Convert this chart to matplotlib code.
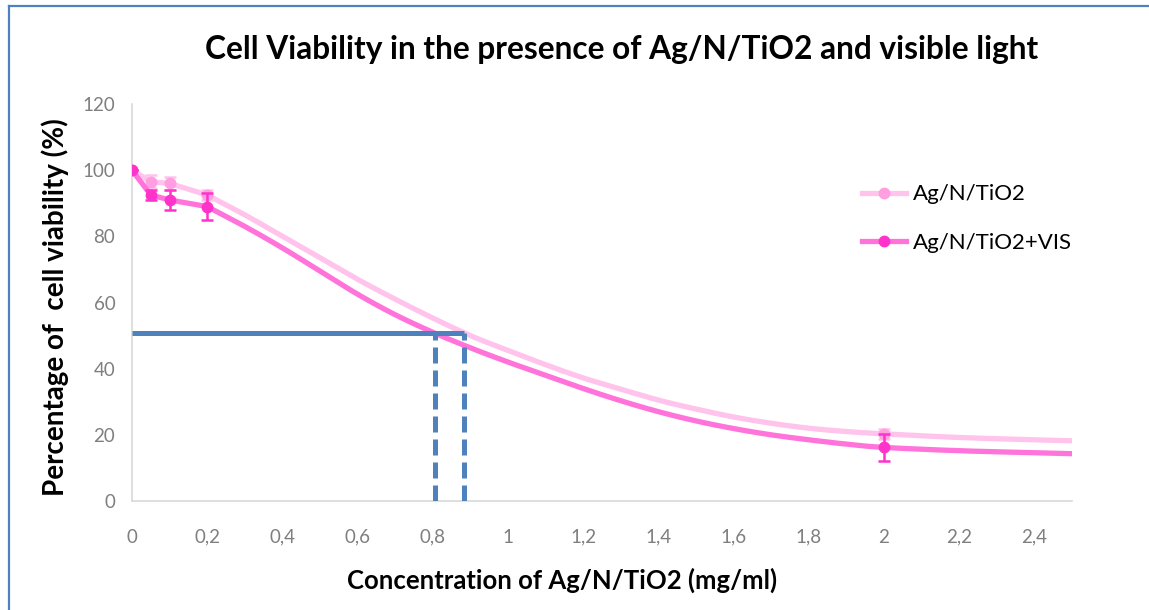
import matplotlib
matplotlib.use("Agg")
import numpy as np
import matplotlib.pyplot as plt
from matplotlib.lines import Line2D
from matplotlib.ticker import FixedLocator, FuncFormatter

# Measured viability (%) with standard deviations
conc = [0, 0.05, 0.1, 0.2, 2]
viab_dark = [100, 96.5, 96, 92.5, 20.3]
err_dark = [0, 2, 2, 1.5, 1.5]
viab_vis = [100, 92.5, 91, 89, 16.2]
err_vis = [0, 1.5, 3, 4, 4]

# Dose-response curves drawn between the measured points
curve_x = [0.3, 0.4, 0.5, 0.6, 0.7, 0.8, 0.9, 1.0, 1.1, 1.2, 1.3, 1.4, 1.5,
           1.6, 1.7, 1.8, 1.9, 2.0, 2.2, 2.4, 2.5]
curve_dark = [86.5, 80, 73.5, 67, 61, 55.3, 50, 45.5, 41.2, 37.2, 33.8, 30.5,
              27.8, 25.4, 23.5, 22, 21, 20.3, 19.2, 18.5, 18.2]
curve_vis = [83, 76.5, 69.5, 62.5, 56.3, 51, 46.3, 42, 38, 34, 30.3, 27, 24.2,
             21.9, 20, 18.5, 17.2, 16.2, 15.2, 14.6, 14.3]

# IC50 guide lines
ic50_level = 50.7
ic50_vis = 0.806
ic50_dark = 0.883

x_ticks = [0, 0.2, 0.4, 0.6, 0.8, 1, 1.2, 1.4, 1.6, 1.8, 2, 2.2, 2.4]
y_ticks = [0, 20, 40, 60, 80, 100, 120]

title = "Cell Viability in the presence of Ag/N/TiO2 and visible light"
xlabel = "Concentration of Ag/N/TiO2 (mg/ml)"
ylabel = "Percentage of  cell viability (%)"
labels = ["Ag/N/TiO2", "Ag/N/TiO2+VIS"]

light_line = "#FFC3EC"
light_mark = "#FF9EE0"
dark_line = "#FF73DA"
dark_mark = "#FF33CC"
blue = "#4F81BD"


def smooth(xs, ys, n=12):
    """Catmull-Rom path through the given points (spreadsheet-style smooth line)."""
    p = np.column_stack([xs, ys]).astype(float)
    p = np.vstack([p[0], p, p[-1]])
    out = []
    t = np.linspace(0, 1, n, endpoint=False)[:, None]
    for i in range(1, len(p) - 2):
        p0, p1, p2, p3 = p[i - 1], p[i], p[i + 1], p[i + 2]
        seg = 0.5 * ((2 * p1) + (-p0 + p2) * t
                     + (2 * p0 - 5 * p1 + 4 * p2 - p3) * t ** 2
                     + (-p0 + 3 * p1 - 3 * p2 + p3) * t ** 3)
        out.append(seg)
    out.append(p[-2][None, :])
    out = np.vstack(out)
    return out[:, 0], out[:, 1]


fig = plt.figure(figsize=(11.49, 6.10), dpi=100)
ax = fig.add_axes([132 / 1149, 109 / 610, 940 / 1149, 397 / 610])

# series without light: straight joins between the first doses, smooth curve after
xs_d = conc[:4] + curve_x
ys_d = viab_dark[:4] + curve_dark
sx, sy = smooth(xs_d[3:], ys_d[3:])
ax.plot(list(xs_d[:3]) + list(sx), list(ys_d[:3]) + list(sy), color=light_line,
        lw=3.8, solid_capstyle="butt", solid_joinstyle="round", zorder=2)
ax.errorbar(conc, viab_dark, yerr=err_dark, fmt="o", color=light_mark,
            ms=7.5, ecolor=light_line, elinewidth=1.8, capsize=4.5,
            capthick=1.8, zorder=3)

# series with visible light
xs_v = conc[:4] + curve_x
ys_v = viab_vis[:4] + curve_vis
sx, sy = smooth(xs_v[3:], ys_v[3:])
ax.plot(list(xs_v[:3]) + list(sx), list(ys_v[:3]) + list(sy), color=dark_line,
        lw=3.8, solid_capstyle="butt", solid_joinstyle="round", zorder=4)
ax.errorbar(conc, viab_vis, yerr=err_vis, fmt="o", color=dark_mark,
            ms=7.5, ecolor=dark_mark, elinewidth=1.8, capsize=4.5,
            capthick=1.8, zorder=5)

# IC50 guides
ax.plot([0, ic50_dark], [ic50_level, ic50_level], color=blue, lw=3.6,
        solid_capstyle="butt", zorder=6)
for xv in (ic50_vis, ic50_dark):
    ax.plot([xv, xv], [0, ic50_level], color=blue, lw=3.6,
            dashes=(3.2, 1.4), dash_capstyle="butt", zorder=6)

ax.set_xlim(0, 2.5)
ax.set_ylim(0, 120)
ax.xaxis.set_major_locator(FixedLocator(x_ticks))
ax.yaxis.set_major_locator(FixedLocator(y_ticks))
ax.xaxis.set_major_formatter(FuncFormatter(lambda v, p: f"{v:g}".replace(".", ",")))
ax.yaxis.set_major_formatter(FuncFormatter(lambda v, p: f"{v:g}"))
for lab in ax.get_xticklabels() + ax.get_yticklabels():
    lab.set_family("Lato")
ax.tick_params(length=0, labelsize=13.5, colors="#7F7F7F")
ax.tick_params(axis="x", pad=20)
ax.tick_params(axis="y", pad=12)
for s in ("top", "right"):
    ax.spines[s].set_visible(False)
for s in ("left", "bottom"):
    ax.spines[s].set_color("#D9D9D9")
    ax.spines[s].set_linewidth(1.2)

fig.text(622 / 1149, 1 - 50 / 610, title, ha="center", va="center",
         fontsize=22.8, fontweight="bold", family="Lato")
fig.text(562 / 1149, 1 - 580 / 610, xlabel, ha="center", va="center",
         fontsize=18.5, fontweight="bold", family="Lato")
fig.text(55 / 1149, 1 - 307 / 610, ylabel, ha="center", va="center",
         rotation=90, fontsize=20, fontweight="bold", family="Lato")

handles = [
    Line2D([], [], color=light_line, lw=3.8, marker="o", ms=7.5,
           markerfacecolor=light_mark, markeredgecolor=light_mark),
    Line2D([], [], color=dark_line, lw=3.8, marker="o", ms=7.5,
           markerfacecolor=dark_mark, markeredgecolor=dark_mark),
]
ax.legend(handles, labels, loc="upper left", bbox_to_anchor=(0.755, 0.848),
          frameon=False, handlelength=2.0, handletextpad=0.3,
          labelspacing=1.3, prop={"family": "Lato", "size": 16})

# chart frame
fig.add_artist(Line2D([9 / 1149, 9 / 1149], [0, 1 - 6 / 610], color=blue,
                      lw=1.6, transform=fig.transFigure))
fig.add_artist(Line2D([9 / 1149, 1], [1 - 6 / 610, 1 - 6 / 610], color=blue,
                      lw=1.6, transform=fig.transFigure))

fig.savefig("out.png", dpi=100)
